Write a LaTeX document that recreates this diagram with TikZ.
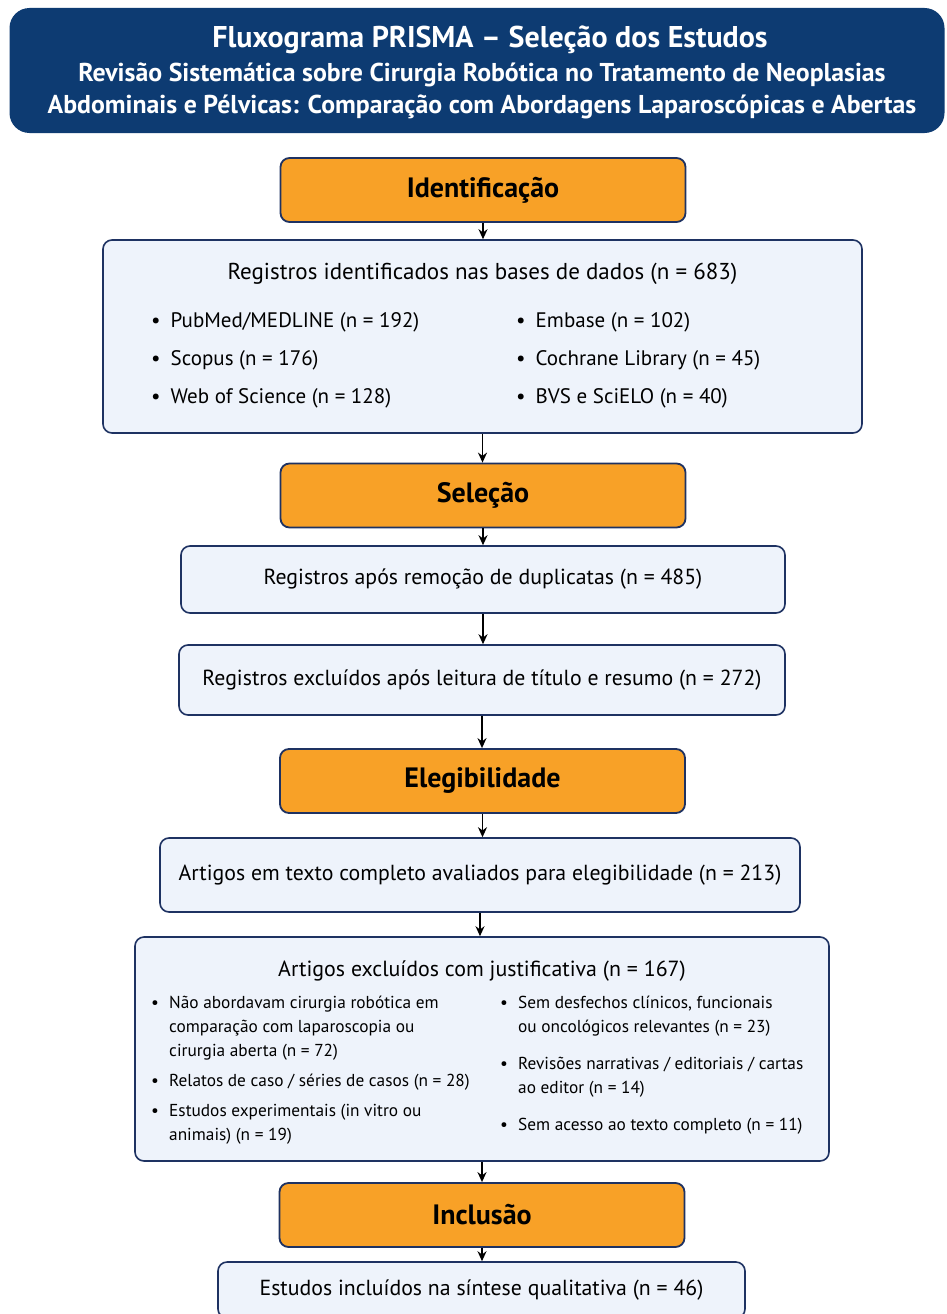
\documentclass[tikz,border=0pt]{standalone}
\usepackage{fontspec}
\setmainfont{PT Sans}
\usetikzlibrary{arrows.meta}
\definecolor{headnavy}{HTML}{0D3B72}
\definecolor{stageorange}{HTML}{F8A127}
\definecolor{panelfill}{HTML}{EEF3FB}
\definecolor{panelline}{HTML}{1E3262}
\tikzset{stage/.style = {rectangle, rounded corners=9pt, draw=panelline, line width=1.8pt, fill=stageorange, minimum width=405pt, minimum height=64pt, font=\fontsize{28}{32}\selectfont\bfseries}}
\tikzset{panel/.style = {rectangle, rounded corners=9pt, draw=panelline, line width=1.6pt, fill=panelfill, font=\fontsize{21.8}{25}\selectfont}}
\tikzset{bullet/.style = {anchor=west, inner sep=0pt, font=\fontsize{21}{25}\selectfont}}
\tikzset{item/.style = {anchor=north west, inner sep=0pt, align=left, font=\fontsize{17.3}{24}\selectfont}}
\tikzset{flow/.style = {-{Stealth[length=10pt,width=9pt]}, line width=1.8pt}}
\newcommand{\bmark}{\makebox[18pt][l]{\textbullet}}
\newcommand{\bcont}{\makebox[18pt]{}}

\begin{document}
\begin{tikzpicture}[x=1pt, y=-1pt]
            \clip (0,0) rectangle (947,1314);
            \fill [white] (0,0) rectangle (947,1314);

            % cabecalho
            \node [rectangle, rounded corners=20pt, fill=headnavy, minimum width=935pt, minimum height=125pt] (head) at (477,70.5) {};
            \node [text=white, font=\fontsize{30}{34}\selectfont\bfseries] (title) at (490,40) {Fluxograma PRISMA -- Seleção dos Estudos};
            \node [text=white, font=\fontsize{25.8}{29}\selectfont\bfseries] (subA) at (482,75) {Revisão Sistemática sobre Cirurgia Robótica no Tratamento de Neoplasias};
            \node [text=white, font=\fontsize{25.8}{29}\selectfont\bfseries] (subB) at (482,107) {Abdominais e Pélvicas: Comparação com Abordagens Laparoscópicas e Abertas};

            % identificacao
            \node [stage] (ident) at (483,190) {Identificação};
            \node [panel, minimum width=759pt, minimum height=193pt] (records) at (482.5,336.5) {};
            \node [font=\fontsize{23}{27}\selectfont] (recordsT) at (482.5,274) {Registros identificados nas bases de dados (n = 683)};
            \node [bullet] (pubmed) at (151,322) {\textbullet\hspace{10pt}PubMed/MEDLINE (n = 192)};
            \node [bullet] (scopus) at (151,360) {\textbullet\hspace{10pt}Scopus (n = 176)};
            \node [bullet] (wos) at (151,398) {\textbullet\hspace{10pt}Web of Science (n = 128)};
            \node [bullet] (embase) at (516,322) {\textbullet\hspace{10pt}Embase (n = 102)};
            \node [bullet] (cochrane) at (516,360) {\textbullet\hspace{10pt}Cochrane Library (n = 45)};
            \node [bullet] (bvs) at (516,398) {\textbullet\hspace{10pt}BVS e SciELO (n = 40)};

            % selecao
            \node [stage] (select) at (483,495.5) {Seleção};
            \node [panel, minimum width=604pt, minimum height=67pt] (dup) at (483,579.5) {Registros após remoção de duplicatas (n = 485)};
            \node [panel, minimum width=606pt, minimum height=70pt] (screen) at (482,680) {Registros excluídos após leitura de título e resumo (n = 272)};

            % elegibilidade
            \node [stage] (elig) at (482.5,781) {Elegibilidade};
            \node [panel, minimum width=640pt, minimum height=74pt] (fulltext) at (480,875) {Artigos em texto completo avaliados para elegibilidade (n = 213)};
            \node [panel, minimum width=694pt, minimum height=224pt] (excluded) at (482,1049) {};
            \node [font=\fontsize{21.9}{26}\selectfont] (excludedT) at (482,971) {Artigos excluídos com justificativa (n = 167)};
            \node [item] (noRobot) at (151,996) {\bmark Não abordavam cirurgia robótica em\\ \bcont comparação com laparoscopia ou\\ \bcont cirurgia aberta (n = 72)};
            \node [item] (caseRep) at (151,1074) {\bmark Relatos de caso / séries de casos (n = 28)};
            \node [item] (experim) at (151,1104) {\bmark Estudos experimentais (in vitro ou\\ \bcont animais) (n = 19)};
            \node [item] (noOutcome) at (500,996) {\bmark Sem desfechos clínicos, funcionais\\ \bcont ou oncológicos relevantes (n = 23)};
            \node [item] (narrative) at (500,1057) {\bmark Revisões narrativas / editoriais / cartas\\ \bcont ao editor (n = 14)};
            \node [item] (noAccess) at (500,1118) {\bmark Sem acesso ao texto completo (n = 11)};

            % inclusao
            \node [stage] (incl) at (482,1215) {Inclusão};
            \node [panel, minimum width=527pt, minimum height=56pt] (final) at (481.5,1290) {Estudos incluídos na síntese qualitativa (n = 46)};

            \draw [flow] (ident) -- (ident |- records.north);
            \draw [flow] (records) -- (records |- select.north);
            \draw [flow] (select) -- (select |- dup.north);
            \draw [flow] (dup) -- (dup |- screen.north);
            \draw [flow] (screen) -- (screen |- elig.north);
            \draw [flow] (elig) -- (elig |- fulltext.north);
            \draw [flow] (fulltext) -- (fulltext |- excluded.north);
            \draw [flow] (excluded) -- (excluded |- incl.north);
            \draw [flow] (incl) -- (incl |- final.north);
        \end{tikzpicture}
\end{document}
